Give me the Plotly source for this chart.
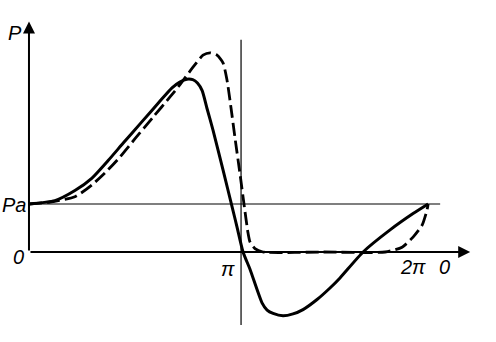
import plotly.graph_objects as go

# crank angle (degrees) and pressure (in units of Pa)
solid_x = [0, 22, 39, 53.5, 67, 80, 95, 110, 121.4, 128, 134, 139, 143, 147, 151,
           156.2, 164.7, 172.4, 176.6, 181.7, 187.6, 197.8, 202.1, 207.2, 215.6, 224.1, 232.6,
           244.5, 255.5, 264.0, 283.6, 306.5, 326.0, 338.8]
solid_y = [1.00, 1.07, 1.28, 1.54, 1.90, 2.27, 2.69, 3.11, 3.42, 3.54, 3.60, 3.59, 3.52, 3.36, 3.0,
           2.54, 1.71, 0.94, 0.52, 0.0, -0.36, -1.06, -1.21, -1.28, -1.33, -1.29, -1.20,
           -0.99, -0.75, -0.54, 0.0, 0.46, 0.80, 1.00]

dash_x = [0, 18, 39, 53.5, 67, 77.3, 90, 105, 119.7, 128, 131, 139.2, 147.7, 153.7, 159.6,
          164.7, 168.1, 171.5, 174.9, 179.2, 182.5, 185.9, 187.6, 191.8, 198.6, 250.0, 302.3, 316.7,
          326.0, 333.7, 337.9, 338.8]
dash_y = [1.00, 1.04, 1.15, 1.40, 1.71, 1.98, 2.36, 2.80, 3.23, 3.48, 3.58, 3.85, 4.10, 4.15, 4.10,
          3.94, 3.58, 3.0, 2.37, 1.61, 1.00, 0.40, 0.21, 0.07, 0.0, 0.0, 0.0, 0.10,
          0.31, 0.56, 0.88, 1.00]

fig = go.Figure()
fig.add_trace(go.Scatter(x=solid_x, y=solid_y, mode="lines",
                         line=dict(color="black", width=3, shape="spline", smoothing=0.6)))
fig.add_trace(go.Scatter(x=dash_x, y=dash_y, mode="lines",
                         line=dict(color="black", width=2.8, shape="spline", smoothing=0.6,
                                   dash="13px,5px")))

# reference lines
fig.add_shape(type="line", x0=0, x1=349, y0=1, y1=1, line=dict(color="black", width=1.2))
fig.add_shape(type="line", x0=180, x1=180, y0=-1.52, y1=4.42, line=dict(color="black", width=1.2))

# axes with arrows
fig.add_annotation(x=374.5, y=0, ax=0, ay=0, axref="x", ayref="y", xref="x", yref="y",
                   showarrow=True, arrowhead=2, arrowsize=1.2, arrowwidth=2, arrowcolor="black", text="")
fig.add_annotation(x=0, y=4.8, ax=0, ay=0, axref="x", ayref="y", xref="x", yref="y",
                   showarrow=True, arrowhead=2, arrowsize=1.2, arrowwidth=2, arrowcolor="black", text="")

font = dict(family="Liberation Sans", size=20, color="black")
labels = [("<i>P</i>", -11.9, 4.57), ("<i>Pa</i>", -12.7, 0.98), ("<i>0</i>", -8.5, -0.10),
          ("<i>π</i>", 169, -0.36), ("<i>2π</i>", 326, -0.31), ("<i>0</i>", 352.3, -0.31)]
for t, x, y in labels:
    fig.add_annotation(x=x, y=y, text=t, showarrow=False, font=font, xref="x", yref="y")

fig.update_layout(width=496, height=342, margin=dict(l=0, r=0, t=0, b=0),
                  plot_bgcolor="white", paper_bgcolor="white", showlegend=False,
                  xaxis=dict(range=[-24.6, 396.4], visible=False, fixedrange=True),
                  yaxis=dict(range=[-1.875, 5.25], visible=False, fixedrange=True))
fig.write_html("out.html")
